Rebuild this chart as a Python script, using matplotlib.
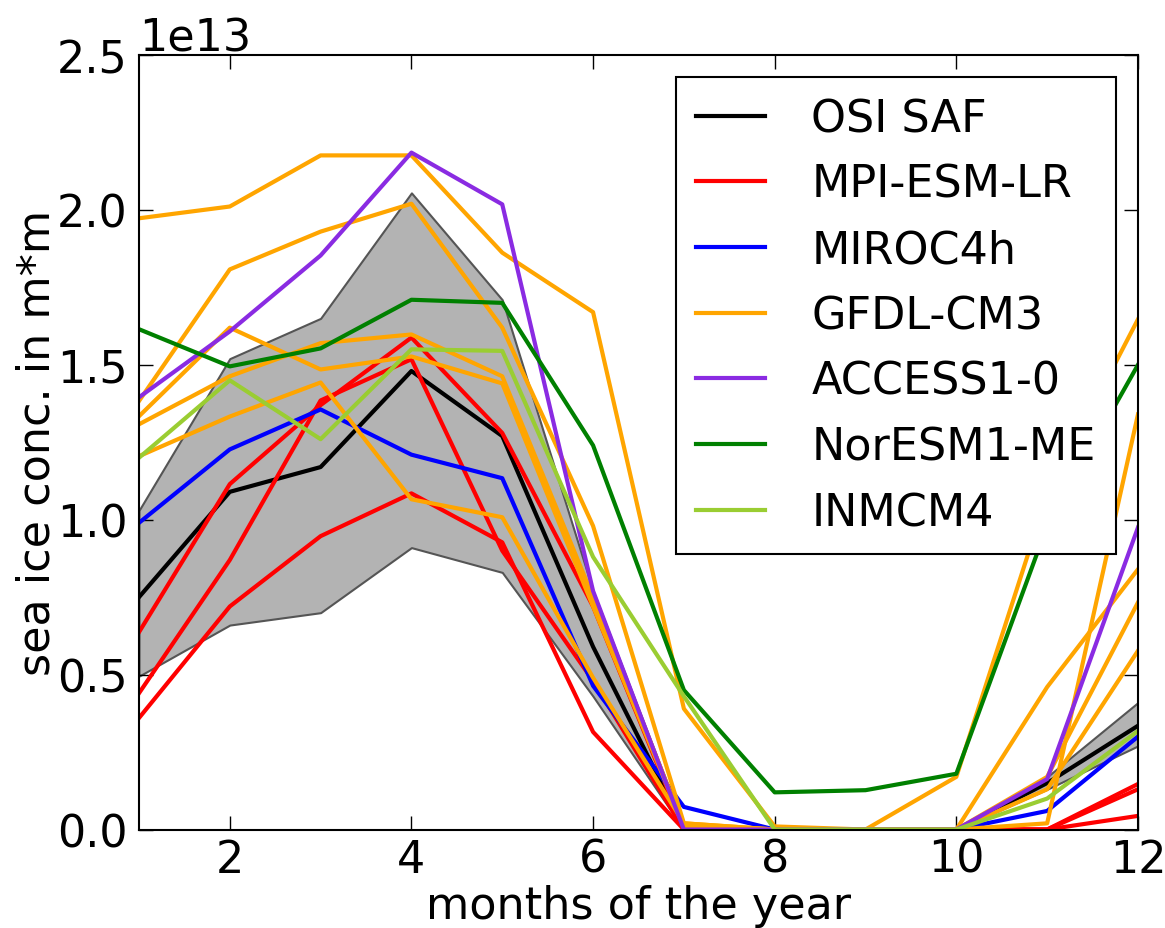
import numpy as np
import matplotlib
matplotlib.use('Agg')
import matplotlib.pyplot as plt

# ── DATA (values in units of 1e13 m*m) ───────────────────────────────

months = np.arange(1, 13)

osi_saf   = [0.75, 1.09, 1.17, 1.48, 1.27, 0.59, 0.005, 0.0, 0.0, 0.0, 0.15, 0.335]
osi_upper = [1.03, 1.52, 1.65, 2.055, 1.71, 0.77, 0.01, 0.0, 0.0, 0.0, 0.17, 0.41]
osi_lower = [0.495, 0.66, 0.70, 0.91, 0.83, 0.43, 0.0, 0.0, 0.0, 0.0, 0.13, 0.27]

mpi_esm_lr = [
    [0.637, 1.115, 1.37, 1.588, 1.28, 0.72, 0.0, 0.0, 0.0, 0.0, 0.0, 0.147],
    [0.44, 0.87, 1.385, 1.518, 0.90, 0.48, 0.0, 0.0, 0.0, 0.0, 0.0, 0.13],
    [0.36, 0.72, 0.947, 1.085, 0.927, 0.315, 0.0, 0.0, 0.0, 0.0, 0.0, 0.044],
]
miroc4h = [0.99, 1.227, 1.356, 1.21, 1.134, 0.464, 0.073, 0.0, 0.0, 0.0, 0.06, 0.30]
gfdl_cm3 = [
    [1.973, 2.011, 2.176, 2.176, 1.862, 1.67, 0.39, 0.01, 0.0, 0.17, 1.08, 1.647],
    [1.383, 1.808, 1.93, 2.02, 1.62, 0.98, 0.02, 0.0, 0.0, 0.0, 0.46, 0.84],
    [1.334, 1.62, 1.485, 1.527, 1.44, 0.72, 0.01, 0.0, 0.0, 0.0, 0.02, 1.34],
    [1.308, 1.463, 1.57, 1.598, 1.463, 0.75, 0.01, 0.0, 0.0, 0.0, 0.17, 0.733],
    [1.205, 1.333, 1.443, 1.066, 1.008, 0.49, 0.02, 0.0, 0.0, 0.0, 0.13, 0.577],
]
access1_0  = [1.395, 1.608, 1.853, 2.185, 2.018, 0.77, 0.0, 0.0, 0.0, 0.0, 0.163, 0.975]
noresm1_me = [1.615, 1.495, 1.553, 1.71, 1.70, 1.24, 0.45, 0.12, 0.127, 0.18, 0.98, 1.50]
inmcm4     = [1.20, 1.45, 1.26, 1.55, 1.545, 0.88, 0.43, 0.0, 0.0, 0.0, 0.10, 0.318]

SCALE = 1e13
FS = 32
LW = 3

# ── PLOT ──────────────────────────────────────────────────────────────

fig = plt.figure(figsize=(11.65, 9.29), dpi=100)
ax = fig.add_axes([0.1193, 0.106, 0.8575, 0.8337])

def s(vals):
    return np.array(vals) * SCALE

ax.fill_between(months, s(osi_lower), s(osi_upper),
                facecolor='#b3b3b3', edgecolor='#555555', linewidth=1.5)

ax.plot(months, s(osi_saf), color='black', lw=LW, label='OSI SAF')
for i, run in enumerate(mpi_esm_lr):
    ax.plot(months, s(run), color='red', lw=LW,
            label='MPI-ESM-LR' if i == 0 else None)
ax.plot(months, s(miroc4h), color='blue', lw=LW, label='MIROC4h')
for i, run in enumerate(gfdl_cm3):
    ax.plot(months, s(run), color='orange', lw=LW,
            label='GFDL-CM3' if i == 0 else None)
ax.plot(months, s(access1_0), color='blueviolet', lw=LW, label='ACCESS1-0')
ax.plot(months, s(noresm1_me), color='green', lw=LW, label='NorESM1-ME')
ax.plot(months, s(inmcm4), color='yellowgreen', lw=LW, label='INMCM4')

ax.set_xlim(1, 12)
ax.set_ylim(0, 2.5e13)
ax.set_xticks([2, 4, 6, 8, 10, 12])
ax.set_yticks(np.arange(0, 2.51e13, 0.5e13))
ax.tick_params(axis='both', direction='in', length=10, width=1,
               labelsize=FS, top=True, right=True)
ax.tick_params(axis='x', pad=6)
ax.tick_params(axis='y', pad=8)
ax.yaxis.get_offset_text().set_fontsize(FS)
for spine in ax.spines.values():
    spine.set_linewidth(1.5)

ax.set_xlabel('months of the year', fontsize=FS, labelpad=2)
ax.set_ylabel('sea ice conc. in m*m', fontsize=FS, labelpad=-1)

leg = ax.legend(loc='upper right', fontsize=FS, fancybox=False,
                framealpha=1, edgecolor='black', handlelength=1.55,
                handletextpad=1.05, labelspacing=0.51, borderpad=0.45,
                borderaxespad=0.5)
leg.get_frame().set_linewidth(1.5)

fig.savefig('out.png', dpi=100)
